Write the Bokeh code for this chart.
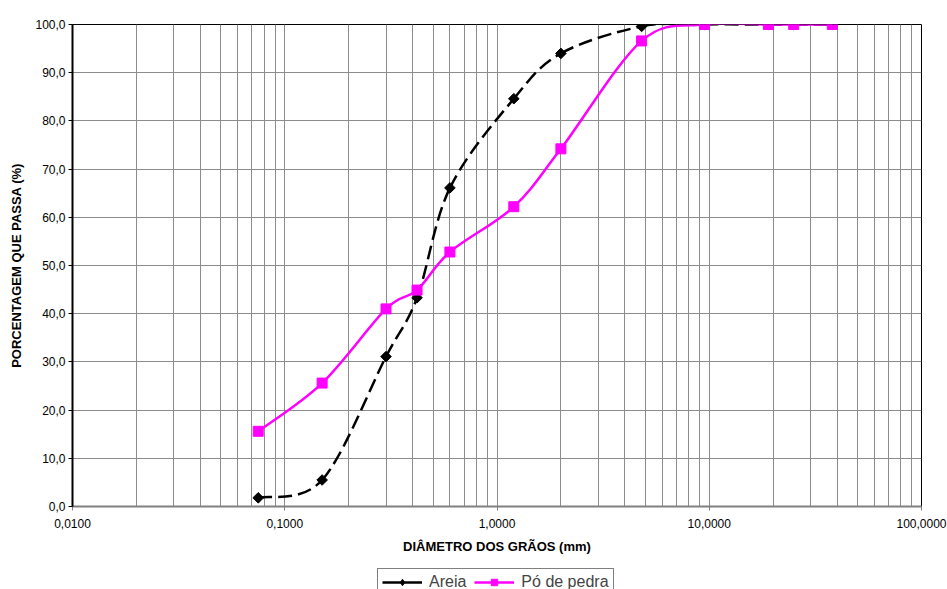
import numpy as np
from bokeh.plotting import figure
from bokeh.layouts import column
from bokeh.models import (FixedTicker, CustomJSTickFormatter, Legend, LegendItem,
                          ColumnDataSource, Range1d)
from bokeh.embed import file_html
from bokeh.resources import INLINE

# ---- data ----
diam = [0.075, 0.15, 0.3, 0.42, 0.6, 1.2, 2.0, 4.8, 9.5, 19.0, 25.0, 38.0]
areia = [1.8, 5.5, 31.1, 43.3, 66.1, 84.6, 94.0, 99.6, 100.0, 100.0, 100.0, 100.0]
po_pedra = [15.6, 25.6, 41.0, 44.9, 52.8, 62.2, 74.2, 96.6, 100.0, 100.0, 100.0, 100.0]
series_names = ["Areia", "Pó de pedra"]
x_major = [0.01, 0.1, 1.0, 10.0, 100.0]
y_major = [0, 10, 20, 30, 40, 50, 60, 70, 80, 90, 100]
x_minor = [m * d for d in [0.01, 0.1, 1.0, 10.0] for m in range(2, 10)]

FONT = "Liberation Sans"
BLACK = "black"
MAGENTA = "#FF00FF"

p = figure(width=947, height=562, x_axis_type="log", output_backend="svg",
           toolbar_location=None, min_border_left=72, min_border_right=26,
           min_border_top=24, min_border_bottom=56)
p.x_range = Range1d(0.01, 100)
p.y_range = Range1d(0, 100)
p.background_fill_color = "white"
p.border_fill_color = "white"
p.outline_line_color = "black"
p.outline_line_width = 1


def smooth_bezier(xs, ys):
    """Excel-style smoothed segments: control points in (log10 x, y) space."""
    u = np.log10(np.array(xs, dtype=float))
    v = np.array(ys, dtype=float)
    n = len(u)
    out = dict(x0=[], y0=[], x1=[], y1=[], cx0=[], cy0=[], cx1=[], cy1=[])
    for i in range(n - 1):
        im1 = max(i - 1, 0)
        ip2 = min(i + 2, n - 1)
        c0u = u[i] + (u[i + 1] - u[im1]) / 6.0
        c0v = v[i] + (v[i + 1] - v[im1]) / 6.0
        c1u = u[i + 1] - (u[ip2] - u[i]) / 6.0
        c1v = v[i + 1] - (v[ip2] - v[i]) / 6.0
        out["x0"].append(10 ** u[i]); out["y0"].append(v[i])
        out["x1"].append(10 ** u[i + 1]); out["y1"].append(v[i + 1])
        out["cx0"].append(10 ** c0u); out["cy0"].append(c0v)
        out["cx1"].append(10 ** c1u); out["cy1"].append(c1v)
    return ColumnDataSource(out)


# Areia (black dashed, diamonds)
p.bezier(x0="x0", y0="y0", x1="x1", y1="y1", cx0="cx0", cy0="cy0", cx1="cx1", cy1="cy1",
         source=smooth_bezier(diam, areia), line_color=BLACK, line_width=2.5,
         line_dash="14 6")
p.scatter(diam, areia, marker="square", angle=np.pi / 4, size=7.5,
          fill_color=BLACK, line_color=BLACK)

# Pó de pedra (magenta solid, squares)
p.bezier(x0="x0", y0="y0", x1="x1", y1="y1", cx0="cx0", cy0="cy0", cx1="cx1", cy1="cy1",
         source=smooth_bezier(diam, po_pedra), line_color=MAGENTA, line_width=2.5)
p.scatter(diam, po_pedra, marker="square", size=10, fill_color=MAGENTA,
          line_color=MAGENTA)

# grids
p.xgrid.ticker = FixedTicker(ticks=x_major, minor_ticks=x_minor)
p.xgrid.grid_line_color = "#8c8c8c"
p.xgrid.minor_grid_line_color = "#8c8c8c"
p.ygrid.ticker = FixedTicker(ticks=y_major)
p.ygrid.grid_line_color = "#8c8c8c"

# axes
xa = p.xaxis[0]
xa.ticker = FixedTicker(ticks=x_major, minor_ticks=x_minor)
xa.formatter = CustomJSTickFormatter(code="return tick.toFixed(4).replace('.', ',');")
xa.axis_label = "DIÂMETRO DOS GRÃOS (mm)"
xa.axis_line_color = "#808080"
xa.axis_line_width = 2
xa.major_tick_line_color = "#808080"
xa.major_tick_in = 0
xa.major_tick_out = 4
xa.minor_tick_line_color = None
xa.major_label_standoff = 8
xa.axis_label_standoff = 8

ya = p.yaxis[0]
ya.ticker = FixedTicker(ticks=y_major)
ya.formatter = CustomJSTickFormatter(code="return tick.toFixed(1).replace('.', ',');")
ya.axis_label = "PORCENTAGEM QUE PASSA (%)"
ya.axis_line_color = "black"
ya.axis_line_width = 2
ya.major_tick_line_color = "black"
ya.major_tick_in = 0
ya.major_tick_out = 4
ya.minor_tick_line_color = None
ya.major_label_standoff = 3
ya.axis_label_standoff = 8

for ax in (xa, ya):
    ax.major_label_text_font = FONT
    ax.major_label_text_font_size = "12px"
    ax.major_label_text_color = "black"
    ax.axis_label_text_font = FONT
    ax.axis_label_text_font_size = "13px"
    ax.axis_label_text_font_style = "bold"
    ax.axis_label_text_color = "black"

# ---- legend strip (separate small figure below the chart) ----
# its ranges are chosen so that the series drawn here stay out of view;
# only the legend is visible.
q = figure(width=947, height=27, output_backend="svg", toolbar_location=None,
           min_border=0, min_border_left=0, min_border_right=0,
           min_border_top=0, min_border_bottom=0,
           x_range=Range1d(-3, -2), y_range=Range1d(-3, -2))
q.xaxis.visible = False
q.yaxis.visible = False
q.xgrid.visible = False
q.ygrid.visible = False
q.outline_line_color = None
q.background_fill_color = "white"
q.border_fill_color = "white"

la = q.line(x=diam, y=areia, line_color=BLACK, line_width=2.5)
sa = q.scatter(x=diam, y=areia, marker="diamond", size=13,
               fill_color=BLACK, line_color=BLACK)
lp = q.line(x=diam, y=po_pedra, line_color=MAGENTA, line_width=2.5)
sp = q.scatter(x=diam, y=po_pedra, marker="square", size=10, fill_color=MAGENTA,
               line_color=MAGENTA)

legend = Legend(items=[LegendItem(label=series_names[0], renderers=[la, sa]),
                       LegendItem(label=series_names[1], renderers=[lp, sp])],
                orientation="horizontal", location=(305, -7),
                label_text_font=FONT, label_text_font_size="16px",
                label_standoff=7, glyph_width=40, glyph_height=16,
                spacing=8, padding=4, margin=0,
                border_line_color="black", border_line_width=1,
                background_fill_color="white", background_fill_alpha=1.0,
                label_height=16, label_width=10)
q.add_layout(legend, "center")

layout = column(p, q, spacing=0)
open("out.html", "w").write(file_html(layout, INLINE))
